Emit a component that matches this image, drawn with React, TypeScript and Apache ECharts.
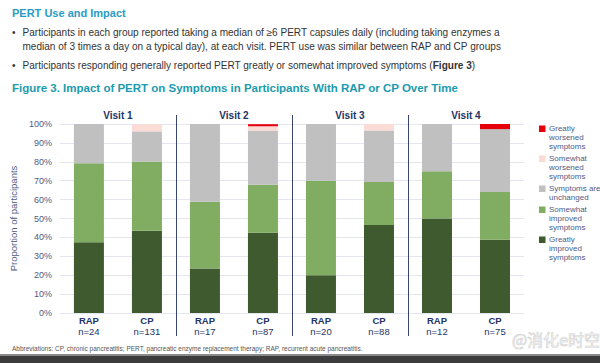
import React, { useEffect, useRef } from "react";
import * as echarts from "echarts";

const groups = ["RAP", "CP", "RAP", "CP", "RAP", "CP", "RAP", "CP"];
const nValues = [24, 131, 17, 87, 20, 88, 12, 75];
const visits = ["Visit 1", "Visit 2", "Visit 3", "Visit 4"];

const greatlyImproved = [37.5, 43.5, 23.5, 42.5, 20.0, 46.6, 50.0, 38.7];
const somewhatImproved = [41.7, 36.6, 35.3, 25.3, 50.0, 22.7, 25.0, 25.3];
const unchanged = [20.8, 16.0, 41.2, 28.7, 30.0, 27.3, 25.0, 33.3];
const somewhatWorsened = [0, 3.8, 0, 2.3, 0, 3.4, 0, 0];
const greatlyWorsened = [0, 0, 0, 1.1, 0, 0, 0, 2.7];

const seriesNames = [
  "Greatly improved symptoms",
  "Somewhat improved symptoms",
  "Symptoms are unchanged",
  "Somewhat worsened symptoms",
  "Greatly worsened symptoms",
];
const legendLabels = [
  "Greatly\nworsened\nsymptoms",
  "Somewhat\nworsened\nsymptoms",
  "Symptoms are\nunchanged",
  "Somewhat\nimproved\nsymptoms",
  "Greatly\nimproved\nsymptoms",
];

const yTicks = [0, 10, 20, 30, 40, 50, 60, 70, 80, 90, 100];

const colors = ["#3e5a2e", "#80ad62", "#c0c0c0", "#fadbd5", "#e6000a"];
const FONT = "Liberation Sans, Arial, sans-serif";
const NAVY = "#243466";
const AXISGRAY = "#4d5c86";

export default function App() {
  const ref = useRef<HTMLDivElement>(null);
  useEffect(() => {
    if (!ref.current) return;
    const chart = echarts.init(ref.current, null, { renderer: "svg" });
    const seriesData = [greatlyImproved, somewhatImproved, unchanged, somewhatWorsened, greatlyWorsened];
    chart.setOption({
      animation: false,
      backgroundColor: "#ffffff",
      textStyle: { fontFamily: FONT },
      grid: { left: 53, right: 76, top: 124, bottom: 50, containLabel: false },
      xAxis: [
        {
          type: "category",
          data: groups.map((g, i) => `${g}\nn=${nValues[i]}`),
          position: "bottom",
          axisLine: { show: false },
          axisTick: { show: false },
          axisLabel: {
            interval: 0,
            margin: 2,
            formatter: (v: string) => {
              const [a, b] = v.split("\n");
              return `{g|${a}}\n{n|${b}}`;
            },
            rich: {
              g: { fontSize: 9.5, fontWeight: "bold", color: NAVY, lineHeight: 11, fontFamily: FONT },
              n: { fontSize: 9.5, color: NAVY, lineHeight: 11, fontFamily: FONT },
            },
          },
        },
        {
          type: "category",
          data: visits,
          position: "top",
          axisLine: { show: false },
          axisTick: { show: false },
          axisLabel: { margin: 4, fontSize: 10, fontWeight: "bold", color: NAVY, fontFamily: FONT },
        },
      ],
      yAxis: {
        type: "value",
        min: yTicks[0],
        max: yTicks[yTicks.length - 1],
        interval: 10,
        axisLine: { show: false },
        axisTick: { show: false },
        axisLabel: { formatter: "{value}%", fontSize: 9, color: AXISGRAY, margin: 8, fontFamily: FONT },
        splitLine: { lineStyle: { color: "#e3e6ee", width: 1 } },
        name: "Proportion of participants",
        nameLocation: "middle",
        nameRotate: 90,
        nameGap: 34,
        nameTextStyle: { fontSize: 9.5, color: AXISGRAY, fontFamily: FONT },
      },
      series: seriesData.map((d, i) => ({
        name: seriesNames[i],
        type: "bar",
        stack: "total",
        xAxisIndex: 0,
        barWidth: 30,
        data: d,
        itemStyle: { color: colors[i] },
      })),
    });

    const centers = groups.map((_, i) => chart.convertToPixel({ xAxisIndex: 0 }, i) as number);
    const sepLines: any[] = [];
    for (let i = 1; i < centers.length - 1; i += 2) {
      const x = Math.round((centers[i] + centers[i + 1]) / 2) + 0.5;
      sepLines.push({
        type: "line",
        shape: { x1: x, y1: 115, x2: x, y2: 336 },
        style: { stroke: "#3a4670", lineWidth: 1 },
        silent: true,
      });
    }

    const legendEls: any[] = [];
    let y = 128.5;
    const legendColors = [...colors].reverse();
    legendLabels.forEach((lab, i) => {
      const lines = lab.split("\n").length;
      legendEls.push({
        type: "rect",
        shape: { x: 539, y: y - 3, width: 6.5, height: 6.5 },
        style: { fill: legendColors[i] },
      });
      legendEls.push({
        type: "text",
        x: 549,
        y: y - 4.5,
        style: {
          text: lab,
          fontSize: 8,
          lineHeight: 9,
          fill: AXISGRAY,
          fontFamily: FONT,
          verticalAlign: "top",
        },
      });
      y += lines * 9 + 3;
    });

    const textEls: any[] = [
      {
        type: "text",
        x: 12,
        y: 13,
        style: { text: "PERT Use and Impact", fontSize: 11, fontWeight: "bold", fill: "#2a9bc4", fontFamily: FONT, verticalAlign: "middle" },
      },
      { type: "text", x: 12, y: 32.5, style: { text: "•", fontSize: 10, fill: "#333", fontFamily: FONT, verticalAlign: "middle" } },
      {
        type: "text",
        x: 22.5,
        y: 32.5,
        style: {
          text: "Participants in each group reported taking a median of ≥6 PERT capsules daily (including taking enzymes a",
          fontSize: 10.05,
          fill: "#333",
          fontFamily: FONT,
          verticalAlign: "middle",
        },
      },
      {
        type: "text",
        x: 22.5,
        y: 46,
        style: {
          text: "median of 3 times a day on a typical day), at each visit. PERT use was similar between RAP and CP groups",
          fontSize: 10.05,
          fill: "#333",
          fontFamily: FONT,
          verticalAlign: "middle",
        },
      },
      { type: "text", x: 12, y: 65, style: { text: "•", fontSize: 10, fill: "#333", fontFamily: FONT, verticalAlign: "middle" } },
      {
        type: "text",
        x: 22.5,
        y: 65,
        style: {
          text: "Participants responding generally reported PERT greatly or somewhat improved symptoms ({b|Figure 3})",
          fontSize: 10.05,
          fill: "#333",
          fontFamily: FONT,
          verticalAlign: "middle",
          rich: { b: { fontSize: 10.05, fontWeight: "bold", fill: "#333", fontFamily: FONT } },
        },
      },
      {
        type: "text",
        x: 12,
        y: 88,
        style: {
          text: "Figure 3. Impact of PERT on Symptoms in Participants With RAP or CP Over Time",
          fontSize: 11.5,
          fontWeight: "bold",
          fill: "#1c9bae",
          fontFamily: FONT,
          verticalAlign: "middle",
        },
      },
      {
        type: "text",
        x: 12,
        y: 348,
        style: {
          text: "Abbreviations: CP, chronic pancreatitis; PERT, pancreatic enzyme replacement therapy; RAP, recurrent acute pancreatitis.",
          fontSize: 6.5,
          fill: "#555",
          fontFamily: FONT,
          verticalAlign: "middle",
        },
      },
      {
        type: "text",
        x: 512,
        y: 339,
        style: {
          text: "@消化e时空",
          fontSize: 16,
          fill: "rgba(255,255,255,0.2)",
          stroke: "#cfcfcf",
          lineWidth: 0.7,
          fontFamily: "Noto Sans CJK SC, sans-serif",
          verticalAlign: "middle",
        },
      },
      { type: "rect", shape: { x: 0, y: 354, width: 600, height: 2 }, style: { fill: "#8a8a8a" } },
      { type: "rect", shape: { x: 0, y: 356, width: 600, height: 7 }, style: { fill: "#3c3c3c" } },
    ];

    chart.setOption({ graphic: { elements: [...sepLines, ...legendEls, ...textEls] } });

    return () => chart.dispose();
  }, []);
  return (
    <div
      ref={ref}
      style={{ position: "fixed", left: 0, top: 0, width: 600, height: 363 }}
    />
  );
}
